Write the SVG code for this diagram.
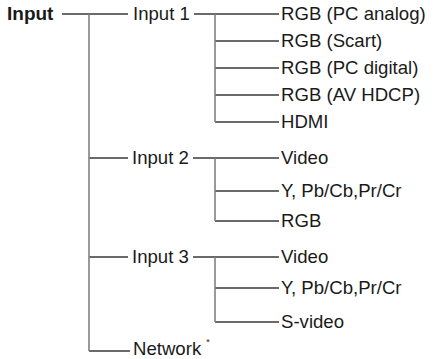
<svg xmlns="http://www.w3.org/2000/svg" width="438" height="359" viewBox="0 0 438 359">
<style>
text{font-family:"Liberation Sans",Arial,sans-serif;font-size:18.6px;fill:#1a1a1a}
.b{font-weight:bold;font-size:19px}
.h{stroke:#3a3a3a;stroke-width:1.4;fill:none}
.v{stroke:#808080;stroke-width:1.6;fill:none}
.s{font-size:9px}
</style>
<rect width="438" height="359" fill="#fff"/>
<g id="connectors">
<path class="h" d="M62 14H128M89 158H128M89 257H128M89 351H130"/>
<path class="v" d="M89 14V351"/>
<path class="h" d="M194 14H279M215 41H279M215 68H279M215 95H279M215 122H279"/>
<path class="v" d="M215 14V122"/>
<path class="h" d="M193 158H279M215 191H279M215 221H279"/>
<path class="v" d="M215 158V221"/>
<path class="h" d="M193 257H279M215 288H279M215 322H279"/>
<path class="v" d="M215 257V322"/>
</g>
<g id="input"><text class="b" x="7" y="20">Input</text></g>
<g id="input1"><text x="133" y="20">Input 1</text></g>
<g id="input2"><text x="132" y="164">Input 2</text></g>
<g id="input3"><text x="132" y="263">Input 3</text></g>
<g id="network"><text x="133" y="354.5">Network <tspan class="s" dy="-10">*</tspan></text></g>
<g id="rgb-pc-analog"><text x="281" y="20">RGB (PC analog)</text></g>
<g id="rgb-scart"><text x="281" y="47">RGB (Scart)</text></g>
<g id="rgb-pc-digital"><text x="281" y="74">RGB (PC digital)</text></g>
<g id="rgb-av-hdcp"><text x="281" y="101">RGB (AV HDCP)</text></g>
<g id="hdmi"><text x="281" y="128">HDMI</text></g>
<g id="video2"><text x="281" y="164">Video</text></g>
<g id="ypbpr2"><text x="281" y="197">Y, Pb/Cb,Pr/Cr</text></g>
<g id="rgb2"><text x="281" y="227">RGB</text></g>
<g id="video3"><text x="281" y="263">Video</text></g>
<g id="ypbpr3"><text x="281" y="294">Y, Pb/Cb,Pr/Cr</text></g>
<g id="svideo"><text x="281" y="328">S-video</text></g>
</svg>
